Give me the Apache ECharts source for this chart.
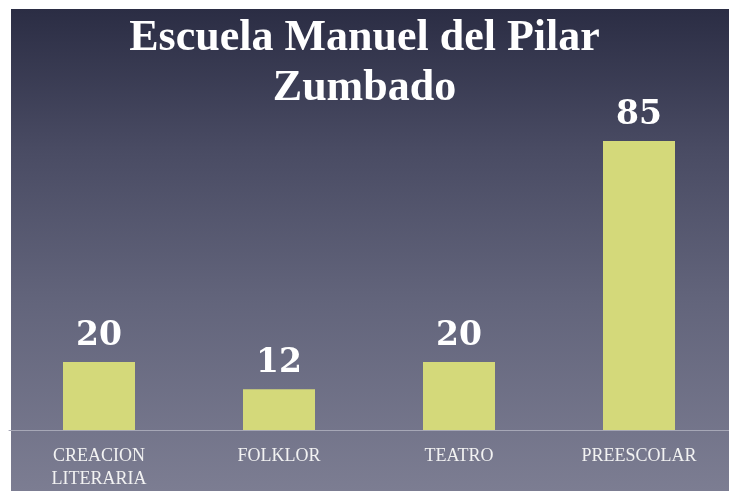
<!DOCTYPE html>
<html>
<head>
<meta charset="utf-8">
<script src="https://cdn.jsdelivr.net/npm/echarts@6/dist/echarts.min.js"></script>
<style>
  html, body { margin: 0; padding: 0; background: #fff; }
  #main { width: 729px; height: 491px; }
</style>
</head>
<body>
<div id="main"></div>
<script>
var categories = ['CREACION\nLITERARIA', 'FOLKLOR', 'TEATRO', 'PREESCOLAR'];
var values = [20, 12, 20, 85];

var myChart = echarts.init(document.getElementById('main'));
var option = {
    backgroundColor: '#ffffff',
    title: {
        text: 'Escuela Manuel del Pilar\nZumbado',
        left: 'center',
        top: 9,
        textStyle: {
            color: '#ffffff',
            fontFamily: 'Liberation Serif',
            fontWeight: 'bold',
            fontSize: 44,
            lineHeight: 50
        }
    },
    graphic: [
        {
            type: 'rect',
            z: -10,
            shape: { x: 11, y: 9, width: 718, height: 482 },
            style: {
                fill: {
                    type: 'linear', x: 0, y: 0, x2: 0, y2: 1,
                    colorStops: [
                        { offset: 0, color: '#2b2d44' },
                        { offset: 0.3, color: '#4a4c64' },
                        { offset: 0.6, color: '#62647b' },
                        { offset: 1, color: '#7c7d92' }
                    ]
                }
            }
        }
    ],
    grid: {
        left: 9,
        right: -2,
        top: 90,
        bottom: 57
    },
    xAxis: {
        type: 'category',
        data: categories,
        axisTick: { show: false },
        axisLine: {
            lineStyle: { color: '#a6a7b6', width: 1 }
        },
        axisLabel: {
            color: '#f2f2f2',
            fontFamily: 'Liberation Serif',
            fontSize: 18,
            lineHeight: 23,
            margin: 15
        }
    },
    yAxis: {
        type: 'value',
        min: 0,
        max: 100,
        show: false,
        splitLine: { show: false }
    },
    series: [
        {
            type: 'bar',
            data: values,
            barWidth: 72,
            itemStyle: { color: '#d4d97a' },
            label: {
                show: true,
                position: 'top',
                distance: 9,
                color: '#ffffff',
                fontFamily: 'DejaVu Serif',
                fontWeight: 'bold',
                fontSize: 33
            }
        }
    ]
};
myChart.setOption(option);
</script>
</body>
</html>
